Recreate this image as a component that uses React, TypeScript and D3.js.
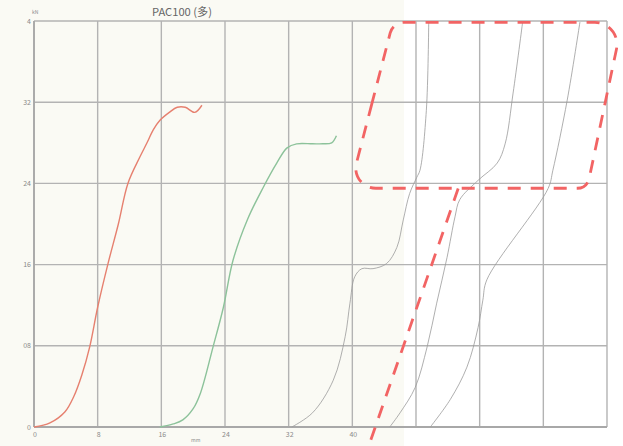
import React from "react";
import * as d3 from "d3";

type Pt = [number, number];

const xGridTicks = [0, 8, 16, 24, 32, 40, 48, 56, 64, 72];
const xLabelTicks = [0, 8, 16, 24, 32, 40];
const yGridTicks = [0, 8, 16, 24, 32, 40];
const yLabels = ["0", "08", "16", "24", "32", "4"];

const sampleRed: Pt[] = [
  [0, 0], [2, 0.4], [3.9, 1.5], [5, 3], [6, 5.1], [7, 7.9], [8, 11.8], [9.3, 16.1],
  [10.6, 20], [11.8, 24], [13.3, 26.6], [14.2, 28], [15, 29.3], [15.8, 30.2],
  [17, 31], [18, 31.5], [19, 31.5], [20.2, 31], [21.1, 31.7],
];
const sampleGreen: Pt[] = [
  [15.8, 0], [17.5, 0.3], [18.7, 0.7], [20, 1.8], [20.9, 3.3], [22.5, 7.9], [23.8, 11.8],
  [25, 16.4], [26.8, 20.4], [28.8, 23.6], [30.5, 26], [31.8, 27.5], [33, 27.9],
  [35, 27.9], [36.3, 27.9], [37.4, 28], [38, 28.7],
];
const gray1: Pt[] = [
  [32.4, 0], [35, 1.4], [37.6, 4.6], [39.1, 8.9], [39.7, 12.2], [40.3, 14.8], [41.2, 15.6],
  [42.6, 15.6], [44.3, 16.1], [45.6, 17.7], [46.4, 20.4], [47.2, 23], [48.1, 24.6],
  [48.5, 25.3], [49.3, 31.2], [49.6, 39.9],
];
const gray2: Pt[] = [
  [44.7, 0], [46, 1.4], [47.9, 3.9], [49.4, 7.9], [50.6, 12.2], [51.9, 16.7], [52.9, 20.7],
  [53.5, 22.4], [55.8, 24.3], [58.2, 26], [59.2, 27.9], [60.2, 32.9], [61.4, 39.9],
];
const gray3: Pt[] = [
  [49.8, 0], [52.3, 2.7], [54.4, 5.9], [55.8, 9.8], [56.4, 12.5], [56.9, 14.5],
  [64.6, 23.5], [65.2, 25.3], [67, 32.2], [68.6, 39.9],
];
// annotation box: corner vertices (data units) with corner radii (px)
const annoCorners: Pt[] = [[45.1, 39.86], [73.9, 39.86], [69.5, 23.52], [39.7, 23.52]];
const annoRadii = [14, 22, 12, 20];
const annoLine: Pt[] = [[53.3, 23.5], [42.0, -2.0]];

const W = 623;
const H = 446;
const M = { left: 34, right: 16, top: 21, bottom: 19 };

export default function App() {
  const x = d3.scaleLinear().domain([0, 72]).range([M.left, W - M.right]);
  const y = d3.scaleLinear().domain([0, 40]).range([H - M.bottom, M.top]);
  const line = d3
    .line<Pt>()
    .x((d) => x(d[0]))
    .y((d) => y(d[1]))
    .curve(d3.curveCatmullRom.alpha(0.5));
  const straight = d3
    .line<Pt>()
    .x((d) => x(d[0]))
    .y((d) => y(d[1]));

  const px = annoCorners.map((d) => [x(d[0]), y(d[1])] as Pt);
  const bp = d3.path();
  const n = px.length;
  const mid = (a: Pt, b: Pt): Pt => [(a[0] + b[0]) / 2, (a[1] + b[1]) / 2];
  const start = mid(px[n - 1], px[0]);
  bp.moveTo(start[0], start[1]);
  for (let i = 0; i < n; i++) {
    const c = px[i];
    const nx = px[(i + 1) % n];
    bp.arcTo(c[0], c[1], nx[0], nx[1], annoRadii[i]);
  }
  bp.closePath();

  const gridColor = "#b3b3b3";
  const labelColor = "#8a8a8a";
  const font = "'Noto Sans CJK SC', 'DejaVu Sans', sans-serif";
  const red = "#f26464";

  return (
    <svg
      width={W}
      height={H}
      style={{ position: "absolute", left: 0, top: 0, display: "block" }}
    >
      <rect x={0} y={0} width={W} height={H} fill="#ffffff" />
      <rect x={0} y={0} width={x(46.5)} height={H} fill="#fafaf4" />
      {xGridTicks.map((t) => (
        <line
          key={"gx" + t}
          x1={x(t)}
          x2={x(t)}
          y1={y(0)}
          y2={y(40)}
          stroke={gridColor}
          strokeWidth={1.4}
        />
      ))}
      {yGridTicks.map((t) => (
        <line
          key={"gy" + t}
          x1={x(0)}
          x2={x(72)}
          y1={y(t)}
          y2={y(t)}
          stroke={gridColor}
          strokeWidth={1.4}
        />
      ))}
      <line x1={x(0)} x2={x(0)} y1={y(0)} y2={y(40)} stroke="#a8a8a8" strokeWidth={1.8} />
      <line x1={x(0)} x2={x(72)} y1={y(0)} y2={y(0)} stroke="#a8a8a8" strokeWidth={1.8} />

      <path d={line(gray1) ?? ""} fill="none" stroke="#9a9a9a" strokeWidth={0.8} />
      <path d={line(gray2) ?? ""} fill="none" stroke="#9a9a9a" strokeWidth={0.8} />
      <path d={line(gray3) ?? ""} fill="none" stroke="#9a9a9a" strokeWidth={0.8} />
      <path d={line(sampleGreen) ?? ""} fill="none" stroke="#8cc29a" strokeWidth={1.4} />
      <path d={line(sampleRed) ?? ""} fill="none" stroke="#e6806f" strokeWidth={1.4} />

      <path
        d={bp.toString()}
        fill="none"
        stroke={red}
        strokeWidth={2.8}
        strokeDasharray="13 10"
      />
      <path
        d={straight(annoLine) ?? ""}
        fill="none"
        stroke={red}
        strokeWidth={2.8}
        strokeDasharray="13 10"
      />

      {xLabelTicks.map((t) => (
        <text
          key={"lx" + t}
          x={x(t) + 1}
          y={y(0) + 10}
          fontSize={7}
          fill={labelColor}
          textAnchor="middle"
          fontFamily={font}
        >
          {String(t)}
        </text>
      ))}
      {yGridTicks.map((t, i) => (
        <text
          key={"ly" + t}
          x={x(0) - 3}
          y={y(t) + 2.5}
          fontSize={7}
          fill={labelColor}
          textAnchor="end"
          fontFamily={font}
        >
          {yLabels[i]}
        </text>
      ))}
      <text x={x(0) - 2} y={y(40) - 7} fontSize={5} fill={labelColor} fontFamily={font}>
        kN
      </text>
      <text x={x(24) - 34} y={H - 4} fontSize={5} fill={labelColor} fontFamily={font}>
        mm
      </text>
      <text
        x={152}
        y={16}
        fontSize={11}
        fill="#666"
        fontFamily={font}
        textLength={60}
        lengthAdjust="spacingAndGlyphs"
      >
        PAC100 (多)
      </text>
    </svg>
  );
}
